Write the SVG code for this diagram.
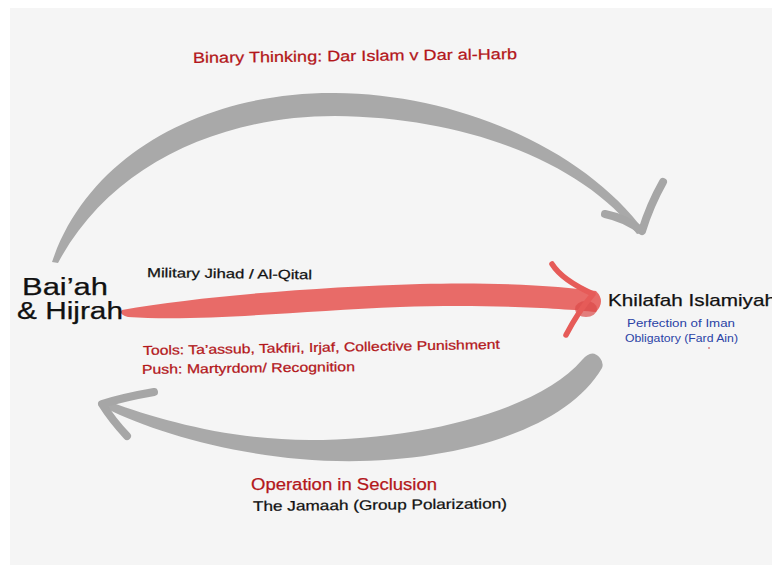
<svg xmlns="http://www.w3.org/2000/svg" width="772" height="565" viewBox="0 0 772 565">
  <defs>
    <style>
      .t { font-family: "Liberation Sans", "DejaVu Sans", sans-serif; }
      .red { fill: #b3171b; stroke: #b3171b; stroke-width: 0.25; }
      .blk { fill: #111111; stroke: #111111; stroke-width: 0.25; }
      .blue { fill: #2a43a6; }
      .gray { fill: #a9a9a9; }
      .barb { fill: none; stroke: #a6a6a6; stroke-width: 8; stroke-linecap: round; stroke-linejoin: round; }
      .rbarb { fill: none; stroke: #e65b58; stroke-width: 5.5; stroke-linecap: round; stroke-linejoin: round; }
    </style>
  </defs>
  <rect x="0" y="0" width="772" height="565" fill="#ffffff"/>
  <rect x="10" y="8" width="762" height="557" fill="#f5f5f5"/>

  <g id="connectors">
    <g id="top-arc">
      <path class="gray" d="M 52 262 C 90 150, 210 92, 335 93 C 460 94, 585 150, 645 232 L 637 234 C 585 165, 470 117, 335 116 C 220 116, 110 165, 58 263 Z"/>
      <path class="barb" d="M 605 214 Q 625 218, 642 231 Q 650 205, 663 182"/>
    </g>
    <g id="red-arrow">
      <path d="M 122 310 C 200 296, 320 287, 420 284 C 500 282, 560 286, 596 291 Q 606 301, 596 312 C 560 308, 480 304, 400 307 C 300 311, 200 322, 128 317 Q 118 314, 122 310 Z" fill="#e65e5b" opacity="0.92"/>
      <ellipse cx="586" cy="309" rx="11" ry="8" fill="#dc4a48" opacity="0.7"/>
      <path class="rbarb" d="M 552 264 Q 562 280, 593 294 Q 578 312, 566 335"/>
    </g>
    <g id="bottom-arc">
      <path class="gray" d="M 602 368 C 560 440, 420 470, 300 459 C 220 452, 150 430, 105 408 L 110 402 C 160 420, 230 440, 310 440 C 420 440, 540 410, 582 360 Q 592 348, 600 358 Q 604 363, 602 368 Z"/>
      <path class="barb" d="M 154 392 Q 125 397, 102 404 Q 112 420, 127 436"/>
    </g>
  </g>

  <g id="label-top">
    <text class="t red" x="193" y="63" font-size="15" textLength="324" lengthAdjust="spacingAndGlyphs" transform="rotate(-0.7 193 63)">Binary Thinking: Dar Islam v Dar al-Harb</text>
  </g>

  <g id="node-baiah">
    <text class="t blk" x="22" y="295" font-size="23" textLength="86" lengthAdjust="spacingAndGlyphs" stroke-width="0.6">Bai’ah</text>
    <text class="t blk" x="17" y="319" font-size="23" textLength="106" lengthAdjust="spacingAndGlyphs" stroke-width="0.6">&amp; Hijrah</text>
  </g>

  <g id="label-military">
    <text class="t blk" x="147" y="277" font-size="13" textLength="165" lengthAdjust="spacingAndGlyphs" transform="rotate(0.8 147 277)">Military Jihad / Al-Qital</text>
  </g>

  <g id="node-khilafah">
    <text class="t blk" x="608" y="306" font-size="17" textLength="168" lengthAdjust="spacingAndGlyphs">Khilafah Islamiyah</text>
    <text class="t blue" x="627" y="327" font-size="11.5" textLength="108" lengthAdjust="spacingAndGlyphs">Perfection of Iman</text>
    <text class="t blue" x="625" y="342" font-size="11.5" textLength="113" lengthAdjust="spacingAndGlyphs">Obligatory (Fard Ain)</text>
    <circle cx="709" cy="348" r="0.8" fill="#c03030"/>
  </g>

  <g id="label-tools">
    <text class="t red" x="143" y="355" font-size="13" textLength="357" lengthAdjust="spacingAndGlyphs" transform="rotate(-1 143 355)">Tools: Ta’assub, Takfiri, Irjaf, Collective Punishment</text>
    <text class="t red" x="142" y="374" font-size="13" textLength="213" lengthAdjust="spacingAndGlyphs" transform="rotate(-0.8 142 374)">Push: Martyrdom/ Recognition</text>
  </g>

  <g id="label-bottom">
    <text class="t red" x="251" y="490" font-size="16" textLength="186" lengthAdjust="spacingAndGlyphs">Operation in Seclusion</text>
    <text class="t blk" x="253" y="511" font-size="14" textLength="254" lengthAdjust="spacingAndGlyphs" transform="rotate(-0.6 253 511)">The Jamaah (Group Polarization)</text>
  </g>
</svg>
